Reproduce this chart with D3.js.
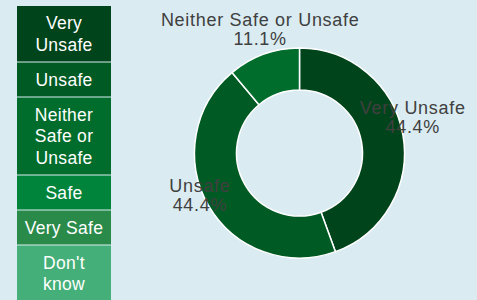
<!DOCTYPE html>
<html><head><meta charset="utf-8">
<script src="https://cdn.jsdelivr.net/npm/d3@7"></script>
<style>
html,body{margin:0;padding:0;background:#daecf2;overflow:hidden;}
svg{display:block;font-family:"Liberation Sans",Arial,sans-serif;}
</style></head><body>
<svg id="c" width="477" height="300"></svg>
<script>
const categories = ["Very Unsafe","Unsafe","Neither Safe or Unsafe","Safe","Very Safe","Don't know"];
const legendLines = [["Very","Unsafe"],["Unsafe"],["Neither","Safe or","Unsafe"],["Safe"],["Very Safe"],["Don't","know"]];
const values = [4,4,1,0,0,0];
const percentLabels = ["44.4%","44.4%","11.1%","0%","0%","0%"];
const colors = ["#00441b","#005a24","#006d2c","#00843c","#2a8a4a","#44af78"];

const svg = d3.select("#c");
const color = d3.scaleOrdinal().domain(categories).range(colors);

// Legend
const lg = svg.append("g");
let y = 6;
legendLines.forEach((lines,i)=>{
  const h = 12.5 + 21.5*lines.length;
  lg.append("rect").attr("x",17).attr("y",y).attr("width",94).attr("height",h)
    .attr("fill",color(categories[i]));
  const t = lg.append("text").attr("fill","#fff").attr("font-size",17.5)
    .attr("letter-spacing","0.3px").attr("text-anchor","middle");
  lines.forEach((ln,j)=>{
    t.append("tspan").attr("x",64).attr("y", y + 23 + j*21.5).text(ln);
  });
  y += h + 1;
});

// Donut
const cx = 299.5, cy = 153, rOuter = 105, rInner = 63, rLabel = 115;
const g = svg.append("g").attr("transform",`translate(${cx},${cy})`);
const pie = d3.pie().sort(null).value(d=>d.v);
const data = pie(categories.map((c,i)=>({c, v:values[i], p:percentLabels[i]})));
const arc = d3.arc().innerRadius(rInner).outerRadius(rOuter);
g.selectAll("path").data(data.filter(d=>d.data.v>0)).join("path")
  .attr("d",arc).attr("fill",d=>color(d.data.c))
  .attr("stroke","#fff").attr("stroke-width",1.5);

const labelArc = d3.arc().innerRadius(rLabel).outerRadius(rLabel);
data.filter(d=>d.data.v>0).forEach(d=>{
  const [lx,ly] = labelArc.centroid(d);
  const t = g.append("text").attr("text-anchor","middle").attr("fill","#404040")
    .attr("font-size",18).attr("letter-spacing","0.7px");
  t.append("tspan").attr("x",lx).attr("y",ly-19).text(d.data.c);
  t.append("tspan").attr("x",lx).attr("y",ly).text(d.data.p);
});
</script></body></html>
